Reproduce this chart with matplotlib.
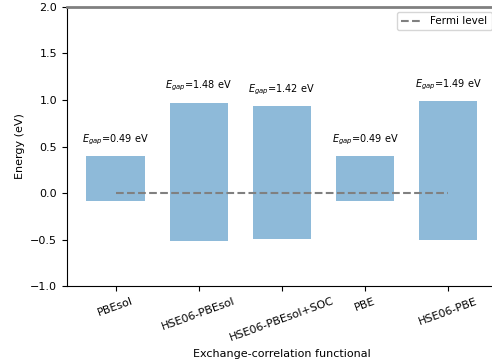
import numpy as np
import matplotlib
matplotlib.use('Agg')
import matplotlib.pyplot as plt

functionals = ['PBEsol', 'HSE06-PBEsol', 'HSE06-PBEsol+SOC', 'PBE', 'HSE06-PBE']
vbm = [-0.09, -0.51, -0.49, -0.09, -0.50]
cbm = [0.40, 0.97, 0.93, 0.40, 0.99]
gaps = [0.49, 1.48, 1.42, 0.49, 1.49]

x = np.arange(len(functionals))
heights = np.array(cbm) - np.array(vbm)

fig = plt.figure(figsize=(4.92, 3.64), dpi=100)
ax = fig.add_axes([0.136, 0.214, 0.874, 0.767])

ax.bar(x, heights, bottom=vbm, width=0.7, color='C0', alpha=0.5)
ax.plot([x[0], x[-1]], [0, 0], '--', color='gray', label='Fermi level')

for xi, top, g in zip(x, cbm, gaps):
    ax.text(xi, top + 0.1, r'$E_{gap}$=%.2f eV' % g, ha='center', va='bottom', fontsize=7)

ax.set_ylim(-1.0, 2.0)
ax.set_xticks(x)
ax.set_xticklabels(functionals, rotation=20, fontsize=8)
ax.tick_params(axis='y', labelsize=8)
ax.set_xlabel('Exchange-correlation functional', fontsize=8)
ax.set_ylabel('Energy (eV)', fontsize=8)
ax.spines['top'].set_color('gray')
ax.spines['top'].set_linewidth(2)
ax.legend(loc='upper right', fontsize=7.5)

plt.savefig('out.png', dpi=100)
